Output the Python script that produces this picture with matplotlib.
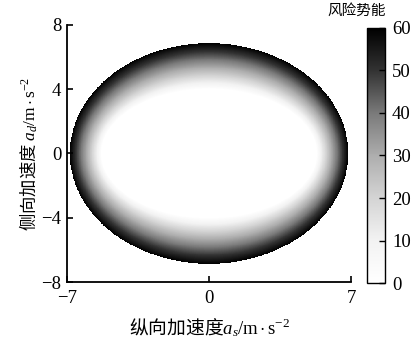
import numpy as np
import matplotlib
matplotlib.use("Agg")
import matplotlib.pyplot as plt
from matplotlib.colors import LinearSegmentedColormap

plt.rcParams['font.family'] = ['Liberation Serif', 'Noto Sans CJK SC']
plt.rcParams['mathtext.fontset'] = 'custom'
plt.rcParams['mathtext.rm'] = 'Liberation Serif'
plt.rcParams['mathtext.it'] = 'Liberation Serif:italic'
plt.rcParams['axes.unicode_minus'] = True

# friction circle (mu*g) and the inner zero-risk region (semi-axes along a_s, a_d)
friction_r = 6.86
safe_axes = [5.3, 4.0]
risk_max = 60
ramp_power = 0.9

x_ticks = [-7, 0, 7]
y_ticks = [-8, -4, 0, 4, 8]
cbar_ticks = [0, 10, 20, 30, 40, 50, 60]
# gray level at each colorbar tick (1 = white)
cbar_grays = [1.0, 0.95, 0.83, 0.68, 0.48, 0.2, 0.0]

cmap = LinearSegmentedColormap.from_list(
    'risk', [(v / risk_max, (g, g, g)) for v, g in zip(cbar_ticks, cbar_grays)])

# risk potential field over the acceleration plane
ax_grid = np.linspace(-7, 7, 700)
ay_grid = np.linspace(-8, 8, 800)
AX, AY = np.meshgrid(ax_grid, ay_grid)
r = np.hypot(AX, AY)
th = np.arctan2(AY, AX)
w = 1.0 / np.sqrt(np.cos(th)**2 / safe_axes[0]**2 + np.sin(th)**2 / safe_axes[1]**2)
t = np.clip((r - w) / (friction_r - w), 0, 1)
E = risk_max * t**ramp_power
E = np.ma.masked_where(r > friction_r, E)

fig = plt.figure(figsize=(4.19, 3.41), dpi=100)
ax = fig.add_axes([0.160, 0.173, 0.678, 0.754])
mesh = ax.pcolormesh(AX, AY, E, cmap=cmap, vmin=0, vmax=risk_max,
                     shading='auto', rasterized=True)

ax.set_xlim(-7, 7)
ax.set_ylim(-8, 8)
ax.set_xticks(x_ticks)
ax.set_yticks(y_ticks)
for s in ['top', 'right']:
    ax.spines[s].set_visible(False)
for s in ['left', 'bottom']:
    ax.spines[s].set_linewidth(1.3)
ax.tick_params(direction='in', length=4, width=1.2, labelsize=13.5)
ax.tick_params(axis='x', pad=6)
ax.tick_params(axis='y', pad=4)

unit = r'$/\mathrm{m}\,{\cdot}\,\mathrm{s}^{-2}$'
ax.set_xlabel(r'纵向加速度$a_s$' + unit, fontsize=13.5,
              family=['Noto Sans CJK SC'], labelpad=7)
ax.set_ylabel(r'侧向加速度 $a_d$' + unit, fontsize=12.5,
              family=['Noto Sans CJK SC'], labelpad=1)

cax = fig.add_axes([0.876, 0.170, 0.043, 0.748])
cb = fig.colorbar(mesh, cax=cax, ticks=cbar_ticks)
cb.outline.set_linewidth(1.0)
cax.tick_params(direction='in', length=4, width=1.0, labelsize=13.5, pad=5)
fig.text(0.852, 0.968, '风险势能', ha='center', va='center', fontsize=10.5,
         family=['Noto Sans CJK SC'])

fig.savefig('out.png', dpi=100)
